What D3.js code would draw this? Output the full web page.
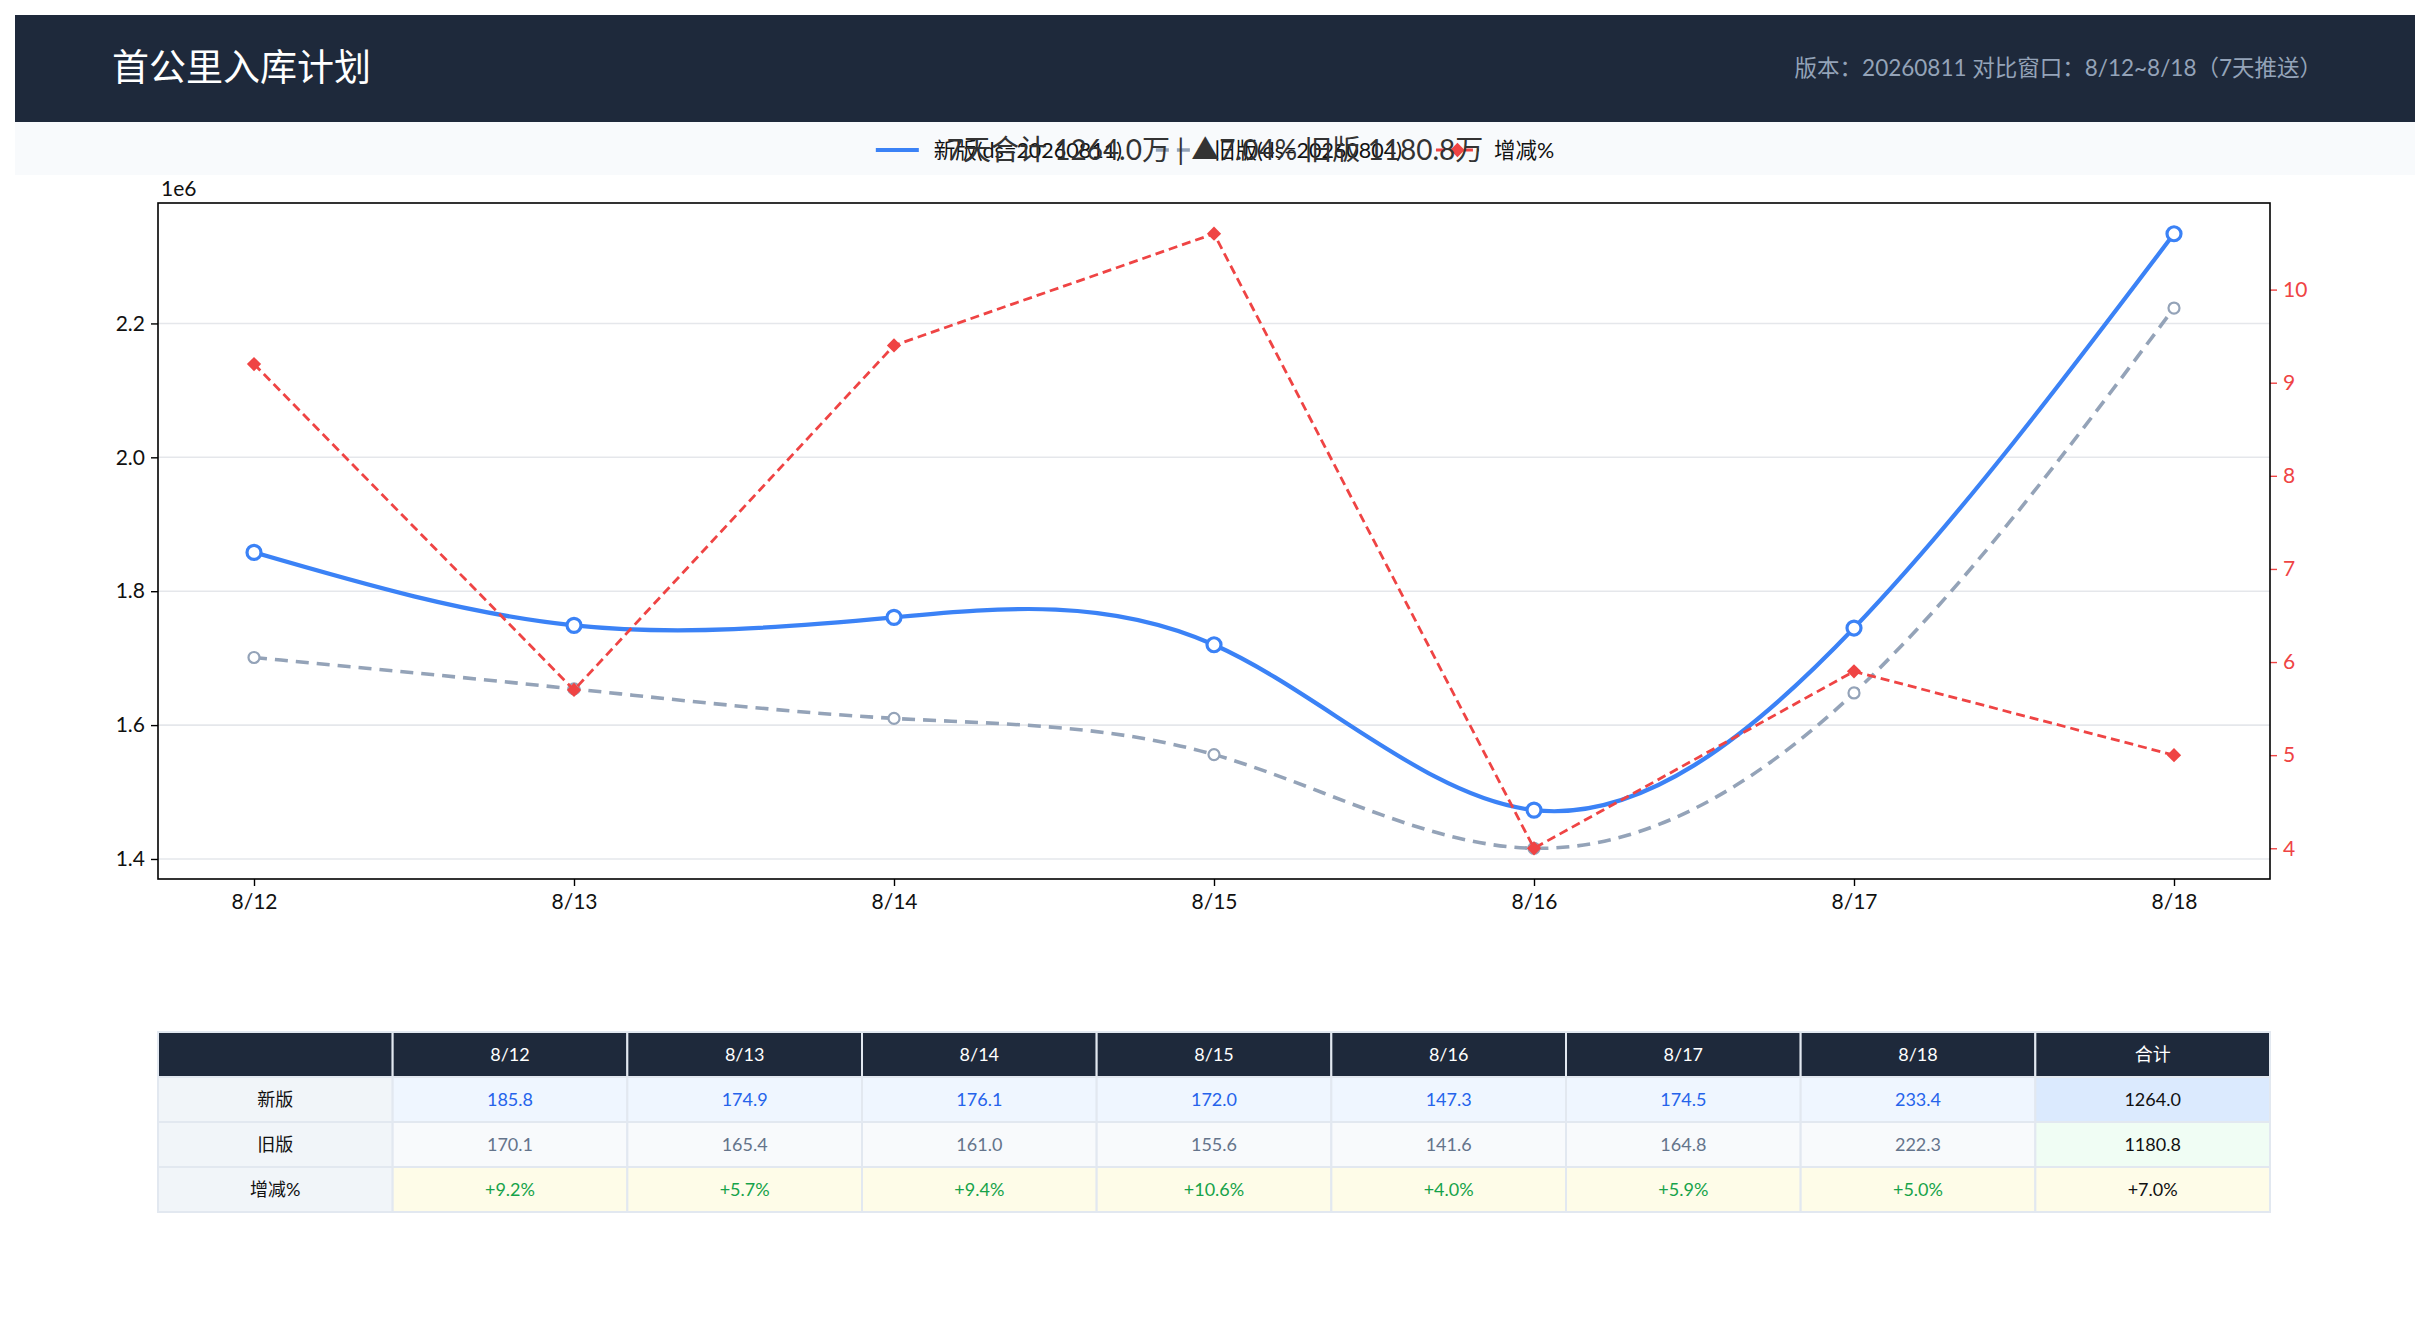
<!DOCTYPE html>
<html lang="zh">
<head>
<meta charset="utf-8">
<title>首公里入库计划</title>
<script src="https://d3js.org/d3.v7.min.js"></script>
<style>
	body { margin: 0; background: #fff; }
	svg text { font-family: "Lato", "Noto Sans CJK SC", sans-serif; }
</style>
</head>
<body>
<div id="chart"></div>
<script>
// ---- data (values in 万) ----
const dates = ["8/12", "8/13", "8/14", "8/15", "8/16", "8/17", "8/18"];
const newVals = [185.8, 174.9, 176.1, 172.0, 147.3, 174.5, 233.4];
const oldVals = [170.1, 165.4, 161.0, 155.6, 141.6, 164.8, 222.3];
const pctVals = [9.2, 5.7, 9.4, 10.6, 4.0, 5.9, 5.0];
const totals = ["1264.0", "1180.8", "+7.0%"];
const leftTicks = [1.4, 1.6, 1.8, 2.0, 2.2];
const rightTicks = [4, 5, 6, 7, 8, 9, 10];
const rowLabels = ["新版", "旧版", "增减%"];
const legendLabels = ["新版(ds=20260811)", "旧版(ds=20260804)", "增减%"];
const titleText = "首公里入库计划";
const subText = "版本：20260811 对比窗口：8/12~8/18（7天推送）";
const summaryText = "7天合计 1264.0万 | ▲7.04%  旧版 1180.8万";

const W = 2430, H = 1326;
const blue = "#3b82f6", gray = "#94a3b8", red = "#ef4444", dark = "#1e293b";

const svg = d3.select("#chart").append("svg")
	.attr("width", W).attr("height", H);

// header
svg.append("rect").attr("x", 15).attr("y", 15).attr("width", 2400).attr("height", 107).attr("fill", dark);
svg.append("rect").attr("x", 15).attr("y", 122).attr("width", 2400).attr("height", 53).attr("fill", "#f8fafc");
svg.append("text").attr("x", 112).attr("y", 68).attr("dy", "0.35em")
	.attr("fill", "#fff").attr("font-size", 37).text(titleText);
svg.append("text").attr("x", 2322).attr("y", 68).attr("dy", "0.35em").attr("text-anchor", "end")
	.attr("fill", gray).attr("font-size", 22.5).text(subText);

// plot area
const pl = 158, pr = 2270, pt = 203, pb = 879;
// x positions with 5% margins either side
const xi = d3.scaleLinear().domain([-0.3, 6.3]).range([pl, pr]);
const xpos = i => xi(i);

const lv = newVals.concat(oldVals).map(v => v / 100);
const lmin = d3.min(lv), lmax = d3.max(lv), lpad = (lmax - lmin) * 0.05;
const yL = d3.scaleLinear().domain([lmin - lpad, lmax + lpad]).range([pb, pt]);
const rmin = d3.min(pctVals), rmax = d3.max(pctVals), rpad = (rmax - rmin) * 0.05;
const yR = d3.scaleLinear().domain([rmin - rpad, rmax + rpad]).range([pb, pt]);

// grid
svg.append("g").selectAll("line").data(leftTicks).join("line")
	.attr("x1", pl).attr("x2", pr)
	.attr("y1", d => yL(d)).attr("y2", d => yL(d))
	.attr("stroke", "#e5e7eb").attr("stroke-width", 1.6);

// axes
const axL = svg.append("g").attr("transform", `translate(${pl},0)`)
	.call(d3.axisLeft(yL).tickValues(leftTicks).tickFormat(d3.format(".1f")).tickSize(7).tickPadding(6));
const axR = svg.append("g").attr("transform", `translate(${pr},0)`)
	.call(d3.axisRight(yR).tickValues(rightTicks).tickFormat(d3.format("d")).tickSize(7).tickPadding(6));
const xAxis = d3.axisBottom(xi).tickValues(d3.range(dates.length)).tickFormat(i => dates[i]).tickSize(7).tickPadding(8);
const axB = svg.append("g").attr("transform", `translate(0,${pb})`).call(xAxis);
[axL, axR, axB].forEach(a => {
	a.select(".domain").remove();
	a.selectAll("text").attr("font-size", 21).attr("font-family", "Lato, 'Noto Sans CJK SC', sans-serif");
	a.selectAll("line").attr("stroke-width", 1.4);
});
axL.selectAll("text").attr("fill", "#111");
axB.selectAll("text").attr("fill", "#111");
axR.selectAll("text").attr("fill", red);
axR.selectAll("line").attr("stroke", red);
svg.append("text").attr("x", 161).attr("y", 196).attr("font-size", 21).attr("fill", "#111").text("1e6");

// lines
const oldLine = d3.line().x((d, i) => xpos(i)).y(d => yL(d / 100)).curve(d3.curveNatural);
const newLine = d3.line().x((d, i) => xpos(i)).y(d => yL(d / 100)).curve(d3.curveNatural);
const pctLine = d3.line().x((d, i) => xpos(i)).y(d => yR(d));

svg.append("path").datum(oldVals).attr("d", oldLine).attr("fill", "none")
	.attr("stroke", gray).attr("stroke-width", 3.6).attr("stroke-dasharray", "13,8");
svg.append("g").selectAll("circle").data(oldVals).join("circle")
	.attr("cx", (d, i) => xpos(i)).attr("cy", d => yL(d / 100)).attr("r", 5.5)
	.attr("fill", "#fff").attr("stroke", gray).attr("stroke-width", 2.2);

svg.append("path").datum(newVals).attr("d", newLine).attr("fill", "none")
	.attr("stroke", blue).attr("stroke-width", 4.2);
svg.append("g").selectAll("circle").data(newVals).join("circle")
	.attr("cx", (d, i) => xpos(i)).attr("cy", d => yL(d / 100)).attr("r", 7)
	.attr("fill", "#fff").attr("stroke", blue).attr("stroke-width", 3.2);

svg.append("path").datum(pctVals).attr("d", pctLine).attr("fill", "none")
	.attr("stroke", red).attr("stroke-width", 2.8).attr("stroke-dasharray", "9,5");
const diamond = d3.symbol().type(d3.symbolDiamond2).size(130);
svg.append("g").selectAll("path").data(pctVals).join("path")
	.attr("transform", (d, i) => `translate(${xpos(i)},${yR(d)})`)
	.attr("d", diamond).attr("fill", red);

// frame
svg.append("rect").attr("x", pl).attr("y", pt).attr("width", pr - pl).attr("height", pb - pt)
	.attr("fill", "none").attr("stroke", "#000").attr("stroke-width", 1.6);

// legend
const ly = 150;
const lg = svg.append("g");
let cx = 0;
legendLabels.forEach((lab, i) => {
	const g = lg.append("g").attr("transform", `translate(${cx},0)`);
	const seg = g.append("line").attr("x1", 0).attr("x2", 43).attr("y1", ly).attr("y2", ly);
	if (i === 0) seg.attr("stroke", blue).attr("stroke-width", 4.2);
	if (i === 1) seg.attr("stroke", gray).attr("stroke-width", 3.6).attr("stroke-dasharray", "13,8");
	if (i === 2) {
		seg.attr("stroke", red).attr("stroke-width", 2.8).attr("stroke-dasharray", "9,5");
		g.append("path").attr("transform", `translate(21.5,${ly})`).attr("d", diamond).attr("fill", red);
	}
	const t = g.append("text").attr("x", 58).attr("y", ly).attr("dy", "0.35em")
		.attr("font-size", 21.5).attr("fill", "#111").text(lab);
	cx += 58 + t.node().getComputedTextLength() + 34;
});
lg.attr("transform", `translate(${1215 - (cx - 34) / 2},0)`);

svg.append("text").attr("x", 1215).attr("y", ly).attr("dy", "0.35em").attr("text-anchor", "middle")
	.attr("font-size", 28).attr("fill", "#333").text(summaryText);

// table
const tx = pl, tw = pr - pl, ty = 1032, rh = 45;
const cols = 9, cw = tw / cols;
const cells = [];
cells.push([""].concat(dates, ["合计"]).map((t, c) => ({ t, c, r: 0, bg: dark, fg: "#fff" })));
const rowBg = ["#eff6ff", "#f8fafc", "#fefce8"];
const rowFg = ["#2563eb", "#64748b", "#16a34a"];
const totBg = ["#dbeafe", "#f0fdf4", "#fefce8"];
const rowData = [
	newVals.map(v => v.toFixed(1)),
	oldVals.map(v => v.toFixed(1)),
	pctVals.map(v => "+" + v.toFixed(1) + "%")
];
rowData.forEach((vals, r) => {
	const row = [{ t: rowLabels[r], c: 0, r: r + 1, bg: "#f1f5f9", fg: "#111" }];
	vals.forEach((v, i) => row.push({ t: v, c: i + 1, r: r + 1, bg: rowBg[r], fg: rowFg[r] }));
	row.push({ t: totals[r], c: 8, r: r + 1, bg: totBg[r], fg: "#111" });
	cells.push(row);
});
const tg = svg.append("g");
const cg = tg.selectAll("g").data(cells.flat()).join("g")
	.attr("transform", d => `translate(${tx + d.c * cw},${ty + d.r * rh})`);
cg.append("rect").attr("width", cw).attr("height", rh)
	.attr("fill", d => d.bg).attr("stroke", "#e2e8f0").attr("stroke-width", 2);
cg.append("text").attr("x", cw / 2).attr("y", rh / 2).attr("dy", "0.35em").attr("text-anchor", "middle")
	.attr("font-size", 18).attr("fill", d => d.fg).text(d => d.t);
</script>
</body>
</html>
